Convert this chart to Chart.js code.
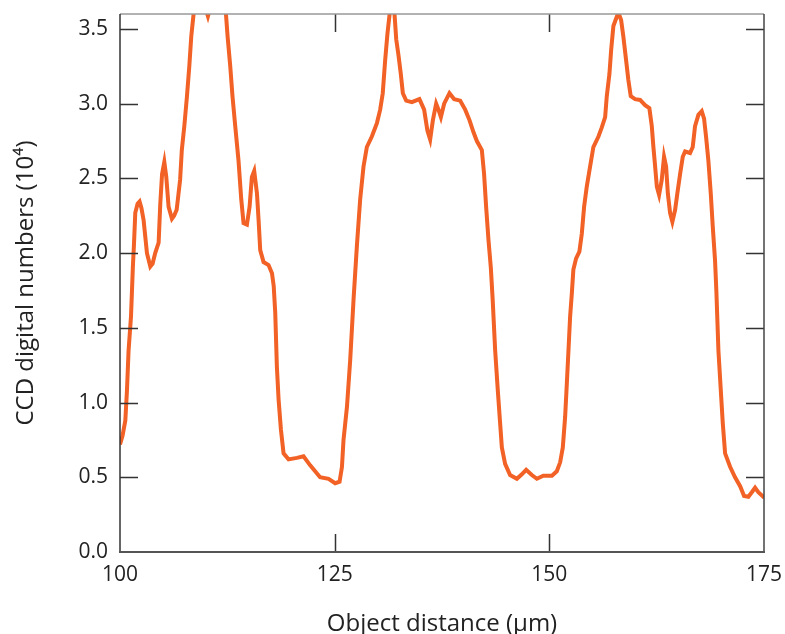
<!DOCTYPE html>
<html>
<head>
<meta charset="utf-8">
<script src="https://cdn.jsdelivr.net/npm/chart.js@4"></script>
<style>
  html, body { margin: 0; padding: 0; background: #fff; }
  #wrap { width: 785px; height: 634px; }
</style>
</head>
<body>
<div id="wrap"><canvas id="profileChart" width="785" height="634"></canvas></div>
<script>
// --- Data ---
const distance = [
    100.0, 100.3, 100.62, 100.81, 101.0, 101.28, 101.5, 101.62, 101.78, 102.05,
    102.28, 102.5, 102.75, 103.14, 103.53, 103.8, 104.1, 104.5, 104.69, 104.9,
    105.16, 105.39, 105.66, 106.05, 106.3, 106.6, 107.0, 107.2, 107.49, 107.8,
    108.07, 108.3, 108.57, 108.9, 109.5, 110.0, 110.24, 110.5, 111.2, 112.0,
    112.34, 112.53, 112.84, 113.1, 113.42, 113.8, 114.12, 114.39, 114.78, 115.09,
    115.36, 115.63, 115.95, 116.14, 116.33, 116.72, 117.3, 117.7, 117.9, 118.08,
    118.27, 118.47, 118.74, 119.05, 119.63, 120.6, 121.37, 122.15, 123.3, 124.29,
    125.06, 125.57, 125.85, 126.03, 126.43, 126.81, 127.2, 127.59, 127.97, 128.36,
    128.75, 129.33, 129.92, 130.3, 130.6, 130.88, 131.15, 131.4, 131.7, 131.97,
    132.17, 132.44, 132.7, 132.94, 133.33, 133.99, 134.87, 135.42, 135.8, 136.12,
    136.44, 136.82, 137.09, 137.37, 137.75, 138.37, 138.92, 139.62, 140.2, 140.7,
    141.16, 141.56, 142.14, 142.4, 142.64, 142.91, 143.19, 143.4, 143.69, 144.0,
    144.27, 144.47, 144.85, 145.43, 146.22, 146.8, 147.3, 147.96, 148.55, 149.3,
    150.3, 150.87, 151.26, 151.57, 151.84, 152.04, 152.23, 152.42, 152.62, 152.8,
    153.12, 153.5, 153.78, 154.05, 154.36, 154.75, 155.13, 155.72, 156.1, 156.5,
    156.69, 157.0, 157.2, 157.46, 157.78, 158.04, 158.36, 158.62, 158.94, 159.2,
    159.48, 159.99, 160.57, 161.15, 161.65, 161.93, 162.12, 162.32, 162.52, 162.78,
    163.09, 163.36, 163.6, 163.8, 164.06, 164.33, 164.65, 164.91, 165.23, 165.54,
    165.81, 166.39, 166.7, 166.97, 167.36, 167.75, 168.02, 168.25, 168.52, 168.8,
    169.03, 169.3, 169.45, 169.69, 169.97, 170.2, 170.47, 171.05, 171.63, 172.22,
    172.68, 173.18, 173.58, 173.96, 174.34, 174.92, 175.0
];
const ccdCounts = [
    0.72, 0.78, 0.88, 1.08, 1.35, 1.575, 1.91, 2.05, 2.27, 2.33,
    2.345, 2.30, 2.22, 2.0, 1.91, 1.93, 2.0, 2.07, 2.33, 2.53,
    2.61, 2.51, 2.31, 2.23, 2.25, 2.29, 2.49, 2.69, 2.85, 3.05,
    3.25, 3.45, 3.6, 3.7, 3.72, 3.63, 3.585, 3.64, 3.72, 3.68,
    3.6, 3.45, 3.25, 3.05, 2.85, 2.62, 2.36, 2.2, 2.19, 2.31,
    2.51, 2.55, 2.40, 2.22, 2.02, 1.94, 1.92, 1.865, 1.78, 1.6,
    1.24, 1.02, 0.82, 0.66, 0.62, 0.63, 0.64, 0.58, 0.50, 0.49,
    0.46, 0.47, 0.57, 0.75, 0.97, 1.285, 1.69, 2.05, 2.36, 2.58,
    2.71, 2.78, 2.87, 2.96, 3.07, 3.29, 3.47, 3.6, 3.66, 3.6,
    3.43, 3.32, 3.2, 3.07, 3.02, 3.01, 3.03, 2.96, 2.82, 2.76,
    2.89, 3.0, 2.96, 2.91, 3.0, 3.07, 3.03, 3.02, 2.96, 2.89,
    2.81, 2.75, 2.69, 2.53, 2.31, 2.09, 1.9, 1.69, 1.35, 1.08,
    0.86, 0.70, 0.59, 0.515, 0.49, 0.52, 0.55, 0.515, 0.49, 0.51,
    0.51, 0.54, 0.6, 0.70, 0.905, 1.13, 1.35, 1.575, 1.73, 1.89,
    1.965, 2.01, 2.13, 2.31, 2.445, 2.58, 2.71, 2.78, 2.84, 2.91,
    3.05, 3.20, 3.36, 3.52, 3.57, 3.61, 3.56, 3.45, 3.29, 3.16,
    3.05, 3.03, 3.025, 2.99, 2.97, 2.85, 2.71, 2.58, 2.445, 2.39,
    2.49, 2.645, 2.58, 2.40, 2.27, 2.21, 2.29, 2.40, 2.53, 2.645,
    2.68, 2.67, 2.71, 2.85, 2.925, 2.95, 2.90, 2.78, 2.62, 2.40,
    2.18, 1.95, 1.75, 1.35, 1.08, 0.86, 0.66, 0.57, 0.50, 0.44,
    0.375, 0.37, 0.40, 0.43, 0.40, 0.37, 0.36
];
const xTicks = [100, 125, 150, 175];
const yTicks = [0.0, 0.5, 1.0, 1.5, 2.0, 2.5, 3.0, 3.5];

const FONT = '"Open Sans", "Noto Sans", sans-serif';

// --- Frame with inward ticks on all four sides ---
const framePlugin = {
    id: 'frame',
    afterDatasetsDraw(chart) {
        const { ctx, chartArea: a, scales: { x, y } } = chart;
        const len = 18;
        ctx.save();
        ctx.lineCap = 'butt';
        ctx.strokeStyle = '#333';
        ctx.lineWidth = 1.5;
        // ticks
        ctx.beginPath();
        yTicks.forEach(v => {
            if (v === 0) return;
            const py = Math.round(y.getPixelForValue(v)) + 0.5;
            ctx.moveTo(a.left, py); ctx.lineTo(a.left + len, py);
            ctx.moveTo(a.right, py); ctx.lineTo(a.right - len, py);
        });
        xTicks.forEach(v => {
            if (v === 100 || v === 175) return;
            const px = Math.round(x.getPixelForValue(v)) + 0.5;
            ctx.moveTo(px, a.bottom); ctx.lineTo(px, a.bottom - len);
            ctx.moveTo(px, a.top); ctx.lineTo(px, a.top + len);
        });
        ctx.stroke();
        // box
        ctx.strokeStyle = '#999';
        ctx.beginPath(); ctx.moveTo(a.left, a.top); ctx.lineTo(a.right, a.top); ctx.stroke();
        ctx.strokeStyle = '#444';
        ctx.beginPath(); ctx.moveTo(a.right, a.top); ctx.lineTo(a.right, a.bottom); ctx.stroke();
        ctx.strokeStyle = '#333';
        ctx.beginPath(); ctx.moveTo(a.left, a.top); ctx.lineTo(a.left, a.bottom); ctx.stroke();
        ctx.strokeStyle = '#555';
        ctx.lineWidth = 2.2;
        ctx.beginPath(); ctx.moveTo(a.left - 1, a.bottom); ctx.lineTo(a.right + 1, a.bottom); ctx.stroke();
        ctx.restore();
    }
};

const ctx = document.getElementById('profileChart').getContext('2d');
new Chart(ctx, {
    type: 'line',
    data: {
        datasets: [{
            data: distance.map((d, i) => ({ x: d, y: ccdCounts[i] })),
            borderColor: '#f26125',
            borderWidth: 4,
            pointRadius: 0,
            tension: 0,
            fill: false
        }]
    },
    options: {
        responsive: false,
        animation: false,
        devicePixelRatio: 1,
        layout: { padding: { top: 14, right: 21, left: 0, bottom: 0 } },
        plugins: { legend: { display: false }, tooltip: { enabled: false } },
        scales: {
            x: {
                type: 'linear',
                min: 100,
                max: 175,
                afterFit: s => { s.height = 82; s.paddingLeft = 0; s.paddingRight = 0; },
                afterBuildTicks: s => { s.ticks = xTicks.map(v => ({ value: v })); },
                grid: { display: false, drawTicks: false },
                border: { display: false },
                ticks: {
                    color: '#222',
                    padding: 10,
                    font: { family: FONT, size: 21 },
                    maxRotation: 0
                },
                title: {
                    display: true,
                    text: 'Object distance (μm)',
                    color: '#222',
                    font: { family: FONT, size: 24, lineHeight: 0.85 },
                    padding: { top: 0, bottom: 0 }
                }
            },
            y: {
                min: 0,
                max: 3.6,
                afterFit: s => { s.width = 120; s.paddingTop = 0; s.paddingBottom = 0; },
                afterBuildTicks: s => { s.ticks = yTicks.map(v => ({ value: v })); },
                grid: { display: false, drawTicks: false },
                border: { display: false },
                ticks: {
                    color: '#222',
                    padding: 12,
                    font: { family: FONT, size: 21 },
                    callback: v => Number(v).toFixed(1)
                },
                title: {
                    display: true,
                    text: 'CCD digital numbers (10⁴)',
                    color: '#222',
                    font: { family: FONT, size: 24 },
                    padding: { top: 12, bottom: 0 }
                }
            }
        }
    },
    plugins: [framePlugin]
});
</script>
</body>
</html>
